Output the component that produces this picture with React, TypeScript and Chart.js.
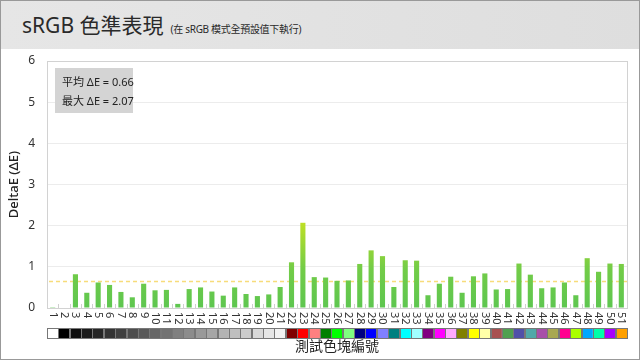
import React, { useEffect, useRef } from "react";
import { Chart, registerables } from "chart.js";

Chart.register(...registerables);

const categories = [
  "1", "2", "3", "4", "5", "6", "7", "8", "9", "10",
  "11", "12", "13", "14", "15", "16", "17", "18", "19", "20",
  "21", "22", "23", "24", "25", "26", "27", "28", "29", "30",
  "31", "32", "33", "34", "35", "36", "37", "38", "39", "40",
  "41", "42", "43", "44", "45", "46", "47", "48", "49", "50", "51",
];

const deltaE = [
  0.02, 0.0, 0.82, 0.37, 0.62, 0.56, 0.39, 0.26, 0.59, 0.43,
  0.44, 0.1, 0.46, 0.5, 0.4, 0.3, 0.5, 0.34, 0.29, 0.33,
  0.51, 1.11, 2.07, 0.75, 0.74, 0.66, 0.67, 1.07, 1.4, 1.26,
  0.51, 1.16, 1.15, 0.31, 0.59, 0.76, 0.37, 0.77, 0.84, 0.45,
  0.46, 1.08, 0.81, 0.48, 0.5, 0.62, 0.31, 1.21, 0.88, 1.08, 1.07,
];

const swatchColors = [
  "#ffffff", "#000000", "#0e0e0e", "#1a1a1a", "#262626", "#333333", "#404040", "#4d4d4d", "#595959", "#666666",
  "#737373", "#808080", "#8c8c8c", "#999999", "#a6a6a6", "#b3b3b3", "#bfbfbf", "#cccccc", "#d9d9d9", "#e6e6e6",
  "#f2f2f2", "#800000", "#ff0000", "#ff8080", "#008000", "#00ff00", "#80ff80", "#000080", "#0000ff", "#8080ff",
  "#008080", "#00ffff", "#a0ffff", "#800080", "#ff00ff", "#ffaaff", "#808000", "#ffff00", "#ffffa8", "#a85050",
  "#50a050", "#5050a8", "#50a8a8", "#a850a8", "#a8a850", "#ff0090", "#aaff00", "#00a8ff", "#00ffa8", "#a800ff", "#ffa000",
];

const avgDeltaE = 0.66;
const maxDeltaE = 2.07;
const yMin = 0;
const yMax = 6;
const yStep = 1;

const titleText = "sRGB 色準表現";
const subtitleText = "(在 sRGB 模式全預設值下執行)";
const yTitle = "DeltaE (ΔE)";
const xTitle = "測試色塊編號";
const avgLabel = "平均 ΔE = " + avgDeltaE.toFixed(2);
const maxLabel = "最大 ΔE = " + maxDeltaE.toFixed(2);

const FONT = "'Noto Sans', 'Noto Sans CJK TC', sans-serif";

const decorPlugin = {
  id: "decor",
  beforeDatasetsDraw(chart: any) {
    const { ctx, chartArea, scales } = chart;
    const x = scales.x;
    const y = scales.y;
    ctx.save();
    const ya = Math.round(y.getPixelForValue(avgDeltaE)) + 0.5;
    ctx.strokeStyle = "#f7dc7a";
    ctx.lineWidth = 1.5;
    ctx.setLineDash([4, 3]);
    ctx.beginPath();
    ctx.moveTo(chartArea.left + 2, ya);
    ctx.lineTo(chartArea.right, ya);
    ctx.stroke();
    ctx.setLineDash([]);
    const n = categories.length;
    const w = (chartArea.right - chartArea.left) / n;
    ctx.strokeStyle = "#cfcfcf";
    ctx.lineWidth = 1;
    for (let i = 1; i < n; i++) {
      const bx = Math.round(x.getPixelForValue(i) - w / 2) + 0.5;
      ctx.beginPath();
      ctx.moveTo(bx, chartArea.bottom);
      ctx.lineTo(bx, chartArea.bottom - 4);
      ctx.stroke();
    }
    ctx.restore();
  },
  afterDraw(chart: any) {
    const { ctx, chartArea, scales } = chart;
    const x = scales.x;
    ctx.save();
    ctx.strokeStyle = "#d2d2d2";
    ctx.lineWidth = 1;
    ctx.strokeRect(
      Math.round(chartArea.left) + 0.5,
      Math.round(chartArea.top) + 0.5,
      Math.round(chartArea.right - chartArea.left),
      Math.round(chartArea.bottom - chartArea.top)
    );
    ctx.fillStyle = "#d4d4d4";
    ctx.fillRect(55, 68, 78, 45);
    ctx.fillStyle = "#222";
    ctx.font = "11px " + FONT;
    ctx.textAlign = "left";
    ctx.textBaseline = "middle";
    ctx.fillText(avgLabel, 62, 82.5);
    ctx.fillText(maxLabel, 62, 101.5);
    const n = categories.length;
    const w = (chartArea.right - chartArea.left) / n;
    ctx.fillStyle = "#333";
    ctx.font = "11px " + FONT;
    for (let i = 0; i < n; i++) {
      const cx = x.getPixelForValue(i);
      ctx.save();
      ctx.translate(cx, chartArea.bottom + 4);
      ctx.rotate(Math.PI / 2);
      ctx.textAlign = "left";
      ctx.textBaseline = "middle";
      ctx.fillText(categories[i], 0, 0);
      ctx.restore();
    }
    const top = chartArea.bottom + 20;
    const h = 10;
    for (let i = 0; i < n; i++) {
      const left = x.getPixelForValue(i) - w / 2;
      ctx.fillStyle = swatchColors[i];
      ctx.fillRect(left, top, w, h);
    }
    ctx.strokeStyle = "#777";
    ctx.lineWidth = 1;
    for (let i = 0; i < n; i++) {
      const left = x.getPixelForValue(i) - w / 2;
      ctx.strokeRect(Math.round(left) + 0.5, top + 0.5, Math.round(w), h);
    }
    ctx.fillStyle = "#222";
    ctx.font = "14px " + FONT;
    ctx.textAlign = "center";
    ctx.textBaseline = "middle";
    ctx.fillText(xTitle, (chartArea.left + chartArea.right) / 2, 347);
    ctx.restore();
  },
};

export default function App() {
  const ref = useRef<HTMLCanvasElement | null>(null);

  useEffect(() => {
    document.body.style.margin = "0";
    const canvas = ref.current;
    if (!canvas) return;
    const chart = new Chart(canvas, {
      type: "bar",
      data: {
        labels: categories,
        datasets: [
          {
            data: deltaE,
            backgroundColor: (c: any) => {
              const ch = c.chart;
              const ys = ch.scales && ch.scales.y;
              if (!ch.chartArea || !ys) return "#66cc55";
              const g = ch.ctx.createLinearGradient(0, ys.getPixelForValue(0), 0, ys.getPixelForValue(2.1));
              g.addColorStop(0, "#5ec650");
              g.addColorStop(0.45, "#72cc48");
              g.addColorStop(1, "#bfe024");
              return g;
            },
            borderWidth: 0,
            barPercentage: 0.45,
            categoryPercentage: 1,
          },
        ],
      },
      options: {
        responsive: false,
        maintainAspectRatio: false,
        animation: false,
        layout: { padding: { top: 61, right: 13, left: 0, bottom: 0 } },
        plugins: {
          legend: { display: false },
          tooltip: { enabled: false },
          title: { display: false },
        },
        scales: {
          x: {
            type: "category",
            ticks: { display: false },
            grid: { display: false },
            border: { display: false },
            afterFit: (s: any) => {
              s.height = 52;
            },
          },
          y: {
            min: yMin,
            max: yMax,
            ticks: {
              stepSize: yStep,
              color: "#333",
              padding: 12,
              font: { family: FONT, size: 12 },
            },
            grid: { color: "#ececec", drawTicks: false },
            border: { display: false },
            title: {
              display: true,
              text: yTitle,
              color: "#222",
              font: { family: FONT, size: 13, weight: "500" },
              padding: { top: 6, bottom: 0 },
            },
            afterFit: (s: any) => {
              s.width = 47;
            },
          },
        },
      },
      plugins: [decorPlugin],
    } as any);
    return () => chart.destroy();
  }, []);

  return (
    <div
      style={{
        position: "absolute",
        left: 0,
        top: 0,
        width: 640,
        height: 360,
        boxSizing: "border-box",
        border: "1px solid #999",
        background: "#fff",
        overflow: "hidden",
        fontFamily: FONT,
      }}
    >
      <div
        style={{
          position: "absolute",
          left: 0,
          top: 0,
          width: 638,
          height: 48,
          background: "linear-gradient(to right, #e6e6e6, #dedede)",
        }}
      >
        <span
          style={{
            position: "absolute",
            left: 21,
            top: 10,
            whiteSpace: "nowrap",
            color: "#2a2a2a",
            lineHeight: "28px",
          }}
        >
          <span style={{ fontSize: 21 }}>{titleText}</span>
          <span style={{ fontSize: 10, marginLeft: 7, letterSpacing: "-0.3px" }}>{subtitleText}</span>
        </span>
      </div>
      <canvas
        ref={ref}
        width={640}
        height={360}
        style={{ position: "absolute", left: -1, top: -1, width: 640, height: 360 }}
      />
    </div>
  );
}
